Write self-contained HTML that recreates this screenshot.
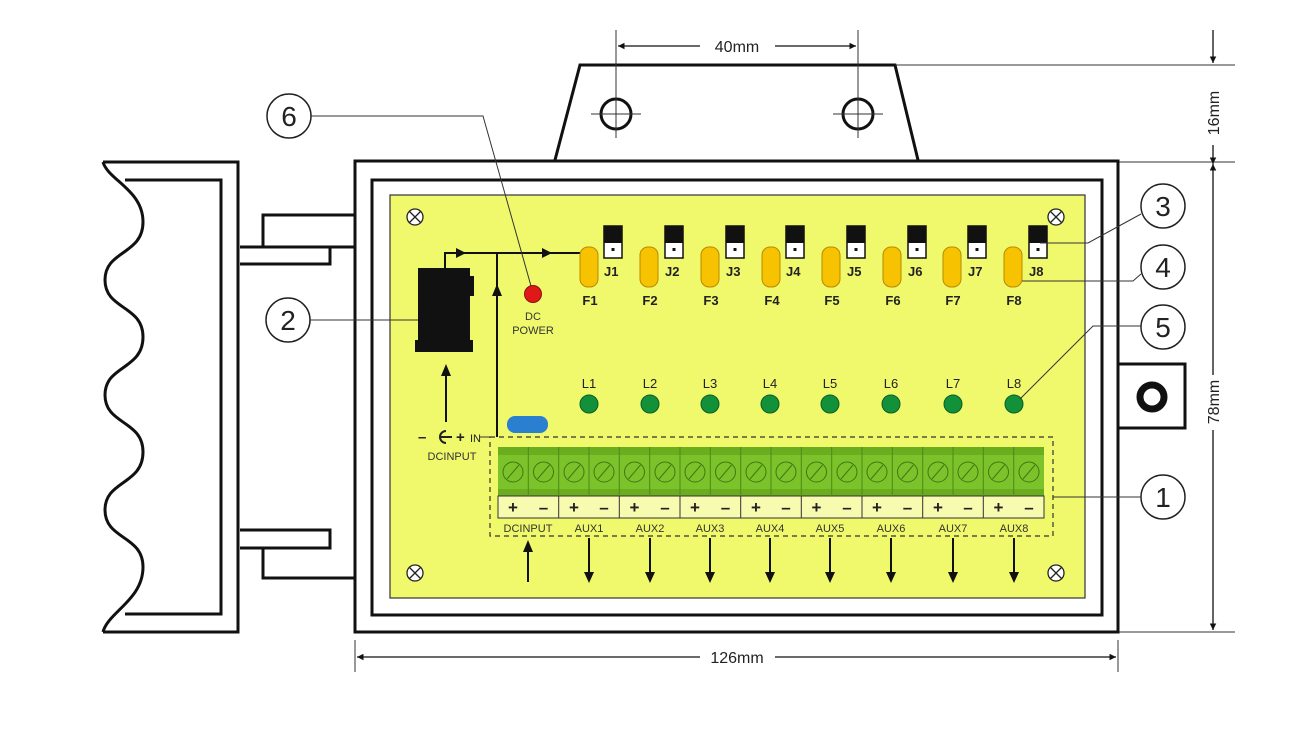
<!DOCTYPE html>
<html><head><meta charset="utf-8"><style>
html,body{margin:0;padding:0;background:#fff}
svg{display:block}
text{font-family:"Liberation Sans",sans-serif}
</style></head><body>
<svg width="1298" height="747" viewBox="0 0 1298 747" xmlns="http://www.w3.org/2000/svg">
<defs>
<marker id="ah" viewBox="0 0 10 10" refX="10" refY="5" markerWidth="5" markerHeight="5" orient="auto-start-reverse"><path d="M0,0L10,5L0,10z" fill="#111"/></marker>
<g id="scr"><circle r="8" fill="#fff" stroke="#222" stroke-width="1.3"/><path d="M-5.5,-5.5L5.5,5.5M5.5,-5.5L-5.5,5.5" stroke="#222" stroke-width="1.3"/></g>
<g id="tscr"><circle r="10" fill="none" stroke="#3d7a12" stroke-width="1"/><path d="M-6,7L6,-7" stroke="#3d7a12" stroke-width="1"/></g>
<g id="jmp"><rect x="0" y="0" width="18" height="32" fill="#fff" stroke="#111" stroke-width="1.5"/><rect x="0" y="0" width="18" height="17" fill="#111"/><rect x="7.5" y="22" width="3" height="3" fill="#111"/></g>
<rect id="fuse" width="18" height="40" rx="8" fill="#f7c200" stroke="#b88a00" stroke-width="1"/>
</defs>

<!-- left bracket -->
<g fill="none" stroke="#111" stroke-width="3">
<path d="M103,162H238V632H103"/>
<path d="M125,180H221V614H125"/>
<path d="M103,162C108,180 143,190 143,222C143,255 105,250 105,280C105,310 143,305 143,337C143,370 105,365 105,395C105,425 143,420 143,452C143,485 105,480 105,510C105,540 143,535 143,567C143,600 108,612 103,632"/>
<path d="M263,247V215H355V247H263"/>
<path d="M240,247H330V264H240"/>
<path d="M240,530H330V548H240"/>
<path d="M263,548V578H355"/>
</g>

<!-- top tab -->
<path d="M555,160L580,65H895L918,160" fill="#fff" stroke="#111" stroke-width="3"/>
<circle cx="616" cy="114" r="15" fill="none" stroke="#111" stroke-width="3"/>
<circle cx="858" cy="114" r="15" fill="none" stroke="#111" stroke-width="3"/>
<g stroke="#333" stroke-width="1">
<path d="M616,30V138M591,114H641M858,30V138M833,114H883"/>
<path d="M895,65H1235M1118,162H1235M1118,632H1235M355,640V672M1118,640V672"/>
</g>
<g stroke="#111" stroke-width="1.3" marker-end="url(#ah)">
<path d="M700,46H618"/><path d="M775,46H856"/>
<path d="M1213,30V63"/><path d="M1213,145V164"/>
<path d="M1213,375V164"/><path d="M1213,430V630"/>
<path d="M700,657H357"/><path d="M775,657H1116"/>
</g>
<text x="737" y="52" font-size="16" text-anchor="middle" fill="#222">40mm</text>
<text x="737" y="663" font-size="16" text-anchor="middle" fill="#222">126mm</text>
<text transform="translate(1219,113) rotate(-90)" font-size="16" text-anchor="middle" fill="#222">16mm</text>
<text transform="translate(1219,402) rotate(-90)" font-size="16" text-anchor="middle" fill="#222">78mm</text>

<!-- enclosure -->
<rect x="355" y="161" width="763" height="471" fill="#fff" stroke="#111" stroke-width="3"/>
<rect x="372" y="180" width="730" height="435" fill="#fff" stroke="#111" stroke-width="3"/>
<rect x="390" y="195" width="695" height="403" fill="#f0f96c" stroke="#333" stroke-width="1.2"/>
<!-- right knob -->
<rect x="1118" y="364" width="67" height="64" fill="#fff" stroke="#111" stroke-width="3"/>
<circle cx="1152" cy="397" r="12" fill="none" stroke="#111" stroke-width="7"/>

<use href="#scr" x="415" y="217"/><use href="#scr" x="1056" y="217"/>
<use href="#scr" x="415" y="573"/><use href="#scr" x="1056" y="573"/>

<!-- power jack -->
<rect x="418" y="268" width="52" height="84" fill="#111"/>
<rect x="466" y="276" width="8" height="20" fill="#111"/>
<rect x="415" y="340" width="58" height="12" fill="#111"/>
<g stroke="#111" stroke-width="2" fill="none">
<path d="M445,268V253H580"/>
<path d="M497,437V253"/>
<path d="M446,422V372"/>
</g>
<path d="M456,248L466,253L456,258z M542,248L552,253L542,258z M492,296L497,284L502,296z M441,376L446,364L451,376z" fill="#111"/>
<circle cx="533" cy="294" r="8.5" fill="#e01818" stroke="#8a1010" stroke-width="1"/>
<text x="533" y="320" font-size="11" text-anchor="middle" fill="#333">DC</text>
<text x="533" y="334" font-size="11" text-anchor="middle" fill="#333">POWER</text>
<rect x="507" y="416" width="41" height="17" rx="8" fill="#2a7fd0"/>

<!-- DC input symbol -->
<text x="418" y="442" font-size="15" font-weight="bold" fill="#222">–</text>
<path d="M446,431A6,6 0 1 0 446,443M440,437H452" stroke="#222" stroke-width="2" fill="none"/>
<text x="456" y="442" font-size="15" font-weight="bold" fill="#222">+</text>
<text x="470" y="442" font-size="11" fill="#222">IN</text>
<text x="452" y="460" font-size="11" text-anchor="middle" fill="#333">DCINPUT</text>

<!-- fuses & jumpers -->
<g>
<use href="#fuse" x="580" y="247"/><use href="#jmp" x="604" y="226"/>
<use href="#fuse" x="640" y="247"/><use href="#jmp" x="665" y="226"/>
<use href="#fuse" x="701" y="247"/><use href="#jmp" x="726" y="226"/>
<use href="#fuse" x="762" y="247"/><use href="#jmp" x="786" y="226"/>
<use href="#fuse" x="822" y="247"/><use href="#jmp" x="847" y="226"/>
<use href="#fuse" x="883" y="247"/><use href="#jmp" x="908" y="226"/>
<use href="#fuse" x="943" y="247"/><use href="#jmp" x="968" y="226"/>
<use href="#fuse" x="1004" y="247"/><use href="#jmp" x="1029" y="226"/>
</g>
<g font-size="13" font-weight="bold" fill="#222">
<text x="604" y="276">J1</text><text x="665" y="276">J2</text><text x="726" y="276">J3</text><text x="786" y="276">J4</text>
<text x="847" y="276">J5</text><text x="908" y="276">J6</text><text x="968" y="276">J7</text><text x="1029" y="276">J8</text>
</g>
<g font-size="13" font-weight="bold" fill="#222" text-anchor="middle">
<text x="590" y="305">F1</text><text x="650" y="305">F2</text><text x="711" y="305">F3</text><text x="772" y="305">F4</text>
<text x="832" y="305">F5</text><text x="893" y="305">F6</text><text x="953" y="305">F7</text><text x="1014" y="305">F8</text>
</g>

<!-- LEDs -->
<g font-size="13" fill="#222" text-anchor="middle">
<text x="589" y="388">L1</text><text x="650" y="388">L2</text><text x="710" y="388">L3</text><text x="770" y="388">L4</text>
<text x="830" y="388">L5</text><text x="891" y="388">L6</text><text x="953" y="388">L7</text><text x="1014" y="388">L8</text>
</g>
<g fill="#12903a" stroke="#0b5e24" stroke-width="1">
<circle cx="589" cy="404" r="9"/><circle cx="650" cy="404" r="9"/><circle cx="710" cy="404" r="9"/><circle cx="770" cy="404" r="9"/>
<circle cx="830" cy="404" r="9"/><circle cx="891" cy="404" r="9"/><circle cx="953" cy="404" r="9"/><circle cx="1014" cy="404" r="9"/>
</g>

<!-- terminal block -->
<path d="M480,437H490" stroke="#333" stroke-width="1"/>
<rect x="490" y="437" width="563" height="99" fill="none" stroke="#333" stroke-width="1.2" stroke-dasharray="5,4"/>
<rect x="498" y="447" width="546" height="49" fill="#7cc22a"/>
<rect x="498" y="447" width="546" height="8" fill="#6aae20"/>
<rect x="498" y="489" width="546" height="7" fill="#6aae20"/>
<rect x="498" y="496" width="546" height="22" fill="#f6fbb0" stroke="#333" stroke-width="1"/>
<g stroke="#4a8a18" stroke-width="1">
<path d="M528.3,447V496M558.7,447V496M589,447V496M619.3,447V496M649.7,447V496M680,447V496M710.3,447V496M740.7,447V496M771,447V496M801.3,447V496M831.7,447V496M862,447V496M892.3,447V496M922.7,447V496M953,447V496M983.3,447V496M1013.7,447V496"/>
</g>
<g stroke="#333" stroke-width="1">
<path d="M558.7,496V518M619.3,496V518M680,496V518M740.7,496V518M801.3,496V518M862,496V518M922.7,496V518M983.3,496V518"/>
</g>
<g>
<use href="#tscr" x="513" y="472"/><use href="#tscr" x="543.5" y="472"/><use href="#tscr" x="574" y="472"/><use href="#tscr" x="604" y="472"/>
<use href="#tscr" x="634.5" y="472"/><use href="#tscr" x="665" y="472"/><use href="#tscr" x="695" y="472"/><use href="#tscr" x="725.5" y="472"/>
<use href="#tscr" x="756" y="472"/><use href="#tscr" x="786" y="472"/><use href="#tscr" x="816.5" y="472"/><use href="#tscr" x="847" y="472"/>
<use href="#tscr" x="877" y="472"/><use href="#tscr" x="907.5" y="472"/><use href="#tscr" x="938" y="472"/><use href="#tscr" x="968" y="472"/>
<use href="#tscr" x="998.5" y="472"/><use href="#tscr" x="1029" y="472"/>
</g>
<g font-size="17" font-weight="bold" fill="#222" text-anchor="middle">
<text x="513" y="513">+</text><text x="543.5" y="513">–</text><text x="574" y="513">+</text><text x="604" y="513">–</text>
<text x="634.5" y="513">+</text><text x="665" y="513">–</text><text x="695" y="513">+</text><text x="725.5" y="513">–</text>
<text x="756" y="513">+</text><text x="786" y="513">–</text><text x="816.5" y="513">+</text><text x="847" y="513">–</text>
<text x="877" y="513">+</text><text x="907.5" y="513">–</text><text x="938" y="513">+</text><text x="968" y="513">–</text>
<text x="998.5" y="513">+</text><text x="1029" y="513">–</text>
</g>
<g font-size="11" fill="#333" text-anchor="middle">
<text x="528" y="532">DCINPUT</text><text x="589" y="532">AUX1</text><text x="650" y="532">AUX2</text><text x="710" y="532">AUX3</text>
<text x="770" y="532">AUX4</text><text x="830" y="532">AUX5</text><text x="891" y="532">AUX6</text><text x="953" y="532">AUX7</text><text x="1014" y="532">AUX8</text>
</g>
<g stroke="#111" stroke-width="2">
<path d="M528,582V548M589,538V574M650,538V574M710,538V574M770,538V574M830,538V574M891,538V574M953,538V574M1014,538V574"/>
</g>
<g fill="#111">
<path d="M523,552L528,540L533,552z"/>
<path d="M584,572L589,583L594,572z M645,572L650,583L655,572z M705,572L710,583L715,572z M765,572L770,583L775,572z M825,572L830,583L835,572z M886,572L891,583L896,572z M948,572L953,583L958,572z M1009,572L1014,583L1019,572z"/>
</g>

<!-- leaders -->
<g stroke="#333" stroke-width="1" fill="none">
<path d="M311,116H483L531,286"/>
<path d="M310,320H418"/>
<path d="M1141,214L1088,243H1040"/>
<path d="M1141,274L1133,281H1022"/>
<path d="M1141,326H1093L1020,399"/>
<path d="M1141,497H1053"/>
</g>
<g fill="#fff" stroke="#222" stroke-width="1.5">
<circle cx="289" cy="116" r="22"/><circle cx="288" cy="320" r="22"/>
<circle cx="1163" cy="206" r="22"/><circle cx="1163" cy="267" r="22"/>
<circle cx="1163" cy="327" r="22"/><circle cx="1163" cy="497" r="22"/>
</g>
<g font-size="28" fill="#222" text-anchor="middle">
<text x="289" y="126">6</text><text x="288" y="330">2</text>
<text x="1163" y="216">3</text><text x="1163" y="277">4</text>
<text x="1163" y="337">5</text><text x="1163" y="507">1</text>
</g>
</svg>
</body></html>
